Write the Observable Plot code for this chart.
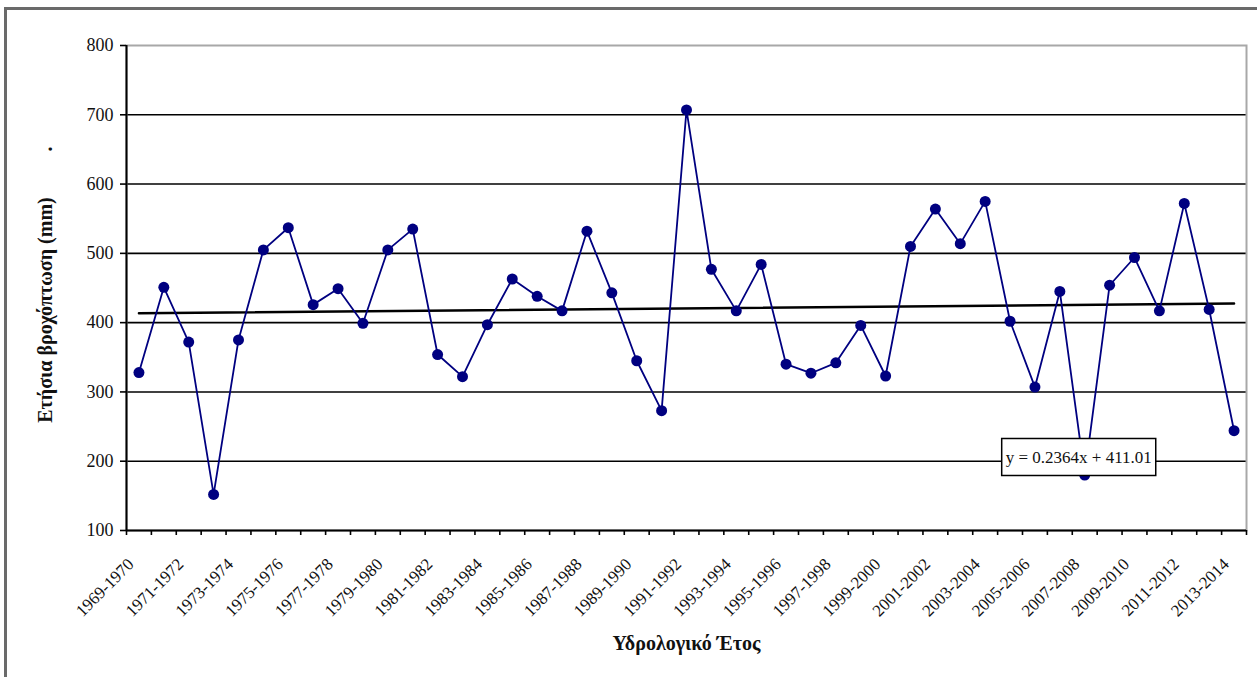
<!DOCTYPE html>
<html><head><meta charset="utf-8">
<script src="https://cdn.jsdelivr.net/npm/d3@7"></script>
<script src="https://cdn.jsdelivr.net/npm/@observablehq/plot@0.6"></script>
<style>
body{margin:0;background:#fff;overflow:hidden}
#wrap{position:relative;width:1257px;height:677px;overflow:hidden}
#border{position:absolute;left:4px;top:7px;width:1320px;height:720px;border:3px solid #6a6a6a;box-sizing:border-box}
#wrap svg{position:absolute;left:0;top:0}
</style></head><body><div id="wrap"><div id="border"></div></div>
<script>
const years = [
  "1969-1970","1970-1971","1971-1972","1972-1973","1973-1974","1974-1975","1975-1976","1976-1977","1977-1978","1978-1979",
  "1979-1980","1980-1981","1981-1982","1982-1983","1983-1984","1984-1985","1985-1986","1986-1987","1987-1988","1988-1989",
  "1989-1990","1990-1991","1991-1992","1992-1993","1993-1994","1994-1995","1995-1996","1996-1997","1997-1998","1998-1999",
  "1999-2000","2000-2001","2001-2002","2002-2003","2003-2004","2004-2005","2005-2006","2006-2007","2007-2008","2008-2009",
  "2009-2010","2010-2011","2011-2012","2012-2013","2013-2014"
];
const rainfall = [
  328, 451, 372, 152, 375, 505, 537, 426, 449, 399,
  505, 535, 354, 322, 397, 463, 438, 417, 532, 443,
  345, 273, 707, 477, 417, 484, 340, 327, 342, 396,
  323, 510, 564, 514, 575, 402, 307, 445, 180, 454,
  494, 417, 572, 419, 244
];
const yTicks = [100, 200, 300, 400, 500, 600, 700, 800];
const yTitle = "Ετήσια βροχόπτωση (mm)";
const yTitleMark = ".";
const xTitle = "Υδρολογικό Έτος";
const trendLabel = "y = 0.2364x + 411.01";
const trendLabelAt = [{category: "2007-2008", value: 206}];

const data = years.map((year, i) => ({i, year, value: rainfall[i]}));
const xDomain = [-0.5, years.length - 0.5];
const yDomain = [yTicks[0], yTicks[yTicks.length - 1]];
const boundaries = d3.range(years.length + 1).map(i => i - 0.5);
const labelIdx = d3.range(0, years.length, 2);
const serif = "'Liberation Serif', 'Times New Roman', serif";

const chart = Plot.plot({
  width: 1257, height: 677,
  marginLeft: 126, marginRight: 11, marginTop: 45, marginBottom: 147,
  style: {fontFamily: serif, background: "transparent", color: "#111"},
  x: {domain: xDomain, axis: null},
  y: {domain: yDomain, axis: null},
  marks: [
    Plot.gridY(yTicks.filter(d => d > yDomain[0] && d < yDomain[1]), {stroke: "#000", strokeOpacity: 1, strokeWidth: 1.6}),
    Plot.frame({stroke: "#a8a8a8", strokeWidth: 2}),
    Plot.ruleX([xDomain[0]], {stroke: "#000", strokeWidth: 2}),
    Plot.ruleY([yDomain[0]], {stroke: "#000", strokeWidth: 2}),
    Plot.axisY(yTicks, {tickSize: 6, tickPadding: 7, fontSize: 18, stroke: "#000", strokeWidth: 1.6, label: null}),
    Plot.axisX(boundaries, {tickSize: 5, tickFormat: () => "", stroke: "#000", strokeWidth: 1.6, label: null}),
    Plot.axisX(labelIdx, {tickSize: 0, tickRotate: -45, tickPadding: 31, dx: -8, fontSize: 17, tickFormat: i => years[i], label: null}),
    Plot.text([xTitle], {frameAnchor: "bottom", dy: 119, fontSize: 20, fontWeight: "bold", fill: "#111"}),
    Plot.text([yTitle], {frameAnchor: "left", rotate: -90, dx: -81, dy: 22, textAnchor: "middle", fontSize: 20, fontWeight: "bold", fill: "#111"}),
    Plot.text([yTitleMark], {frameAnchor: "left", rotate: -90, dx: -81, dy: -139, textAnchor: "middle", fontSize: 20, fontWeight: "bold", fill: "#111"}),
    Plot.linearRegressionY(data, {x: "i", y: "value", ci: 0, stroke: "#000", strokeWidth: 2.5}),
    Plot.line(data, {x: "i", y: "value", stroke: "#000080", strokeWidth: 1.8}),
    Plot.dot(data, {x: "i", y: "value", r: 5.5, fill: "#000080", stroke: "none"}),
    Plot.text(trendLabelAt, {x: d => years.indexOf(d.category), y: "value", text: () => trendLabel, dx: -6, fontSize: 17, fill: "#111"})
  ]
});
document.getElementById("wrap").appendChild(chart);

// white box with border behind the trend equation
const eq = Array.from(chart.querySelectorAll("text")).find(t => t.textContent === trendLabel);
if (eq) {
  const b = eq.getBBox();
  const g = eq.parentNode;
  const rect = document.createElementNS("http://www.w3.org/2000/svg", "rect");
  rect.setAttribute("x", b.x - 4);
  rect.setAttribute("y", b.y - 9);
  rect.setAttribute("width", b.width + 8);
  rect.setAttribute("height", b.height + 18);
  rect.setAttribute("fill", "#fff");
  rect.setAttribute("stroke", "#000");
  rect.setAttribute("stroke-width", "1.5");
  const et = eq.getAttribute("transform");
  if (et) rect.setAttribute("transform", et);
  g.insertBefore(rect, eq);
}
</script>
</body></html>
